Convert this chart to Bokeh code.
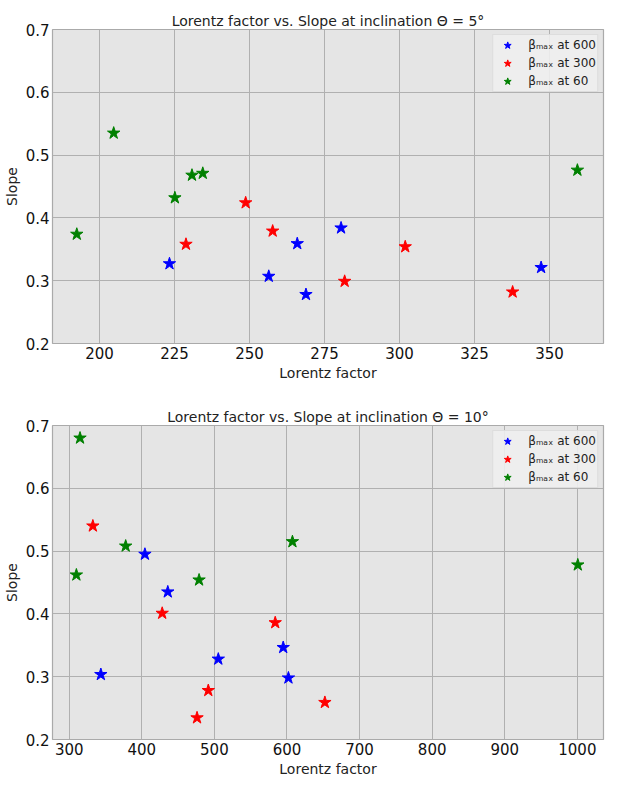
from bokeh.plotting import figure
from bokeh.layouts import column
from bokeh.models import FixedTicker, Range1d
from bokeh.embed import file_html
from bokeh.resources import INLINE

# ---- data: inclination 5 deg ----
t5_blue_x = [223.3, 256.4, 265.9, 268.8, 280.5, 347.2]
t5_blue_y = [0.327, 0.307, 0.359, 0.278, 0.384, 0.321]
t5_red_x = [228.8, 248.7, 257.7, 281.7, 301.9, 337.7]
t5_red_y = [0.358, 0.424, 0.379, 0.299, 0.354, 0.282]
t5_green_x = [192.4, 204.7, 225.1, 230.8, 234.4, 359.3]
t5_green_y = [0.374, 0.535, 0.432, 0.468, 0.471, 0.476]

# ---- data: inclination 10 deg ----
t10_blue_x = [343.6, 404.3, 435.8, 505.4, 594.8, 602.0]
t10_blue_y = [0.3035, 0.495, 0.435, 0.328, 0.3465, 0.298]
t10_red_x = [332.6, 428.1, 476.1, 491.6, 583.8, 652.2]
t10_red_y = [0.540, 0.401, 0.2345, 0.278, 0.386, 0.259]
t10_green_x = [314.9, 309.9, 377.8, 478.9, 607.5, 1000.6]
t10_green_y = [0.680, 0.462, 0.508, 0.454, 0.515, 0.478]

labels = ["\u03b2\u2098\u2090\u2093 at 600", "\u03b2\u2098\u2090\u2093 at 300", "\u03b2\u2098\u2090\u2093 at 60"]
colors = ["#0000ff", "#ff0000", "#008000"]
y_ticks = [0.2, 0.3, 0.4, 0.5, 0.6, 0.7]
x_ticks_5 = [200, 225, 250, 275, 300, 325, 350]
x_ticks_10 = [300, 400, 500, 600, 700, 800, 900, 1000]

FONT = "DejaVu Sans"


def make_plot(title, xr, xticks, series, min_bottom):
    p = figure(frame_width=551, frame_height=314, output_backend="svg",
               toolbar_location=None, x_range=Range1d(*xr), y_range=Range1d(0.2, 0.7),
               min_border_top=29, min_border_left=38, min_border_right=18,
               min_border_bottom=min_bottom)
    p.background_fill_color = "#e5e5e5"
    p.border_fill_color = "white"
    p.outline_line_color = "#aaaaaa"
    p.outline_line_width = 1.2
    p.title.text = title
    p.title.align = "center"
    p.title.text_font = FONT
    p.title.text_font_size = "14px"
    p.title.text_font_style = "normal"
    p.title.text_color = "#222222"
    p.title.standoff = 1
    for ax in (p.xaxis[0], p.yaxis[0]):
        ax.axis_line_color = None
        ax.major_tick_line_color = None
        ax.minor_tick_line_color = None
        ax.major_tick_out = 0
        ax.major_tick_in = 0
        ax.minor_tick_out = 0
        ax.minor_tick_in = 0
        ax.major_label_text_font = FONT
        ax.major_label_text_font_size = "15px"
        ax.major_label_text_color = "#111111"
        ax.axis_label_text_font = FONT
        ax.axis_label_text_font_size = "14px"
        ax.axis_label_text_font_style = "normal"
        ax.axis_label_text_color = "#222222"
        ax.major_label_standoff = 3
        ax.axis_label_standoff = 3
    p.xaxis.axis_label = "Lorentz factor"
    p.yaxis.axis_label = "Slope"
    p.xaxis.ticker = FixedTicker(ticks=xticks)
    p.yaxis.ticker = FixedTicker(ticks=y_ticks)
    p.grid.grid_line_color = "#b0b0b0"
    p.grid.grid_line_width = 1
    for (xs, ys), c, lab in zip(series, colors, labels):
        p.scatter(xs, ys, marker="star", size=13, fill_color=c, line_color=c,
                  legend_label=lab)
    lg = p.legend[0]
    lg.location = "top_right"
    lg.margin = 5
    lg.padding = 1
    lg.spacing = 0
    lg.glyph_height = 18
    lg.glyph_width = 26
    lg.label_height = 17
    lg.label_standoff = 8
    lg.label_text_font = FONT
    lg.label_text_font_size = "12px"
    lg.label_text_color = "#222222"
    lg.background_fill_color = "#eeeeee"
    lg.background_fill_alpha = 0.9
    lg.border_line_color = "#cccccc"
    return p


p1 = make_plot("Lorentz factor vs. Slope at inclination \u0398 = 5\u00b0", (184.3, 368.0), x_ticks_5,
               [(t5_blue_x, t5_blue_y), (t5_red_x, t5_red_y), (t5_green_x, t5_green_y)], 53)
p2 = make_plot("Lorentz factor vs. Slope at inclination \u0398 = 10\u00b0", (277.0, 1036.0), x_ticks_10,
               [(t10_blue_x, t10_blue_y), (t10_red_x, t10_red_y), (t10_green_x, t10_green_y)], 40)

layout = column(p1, p2, spacing=0)
open("out.html", "w").write(file_html(layout, INLINE))
